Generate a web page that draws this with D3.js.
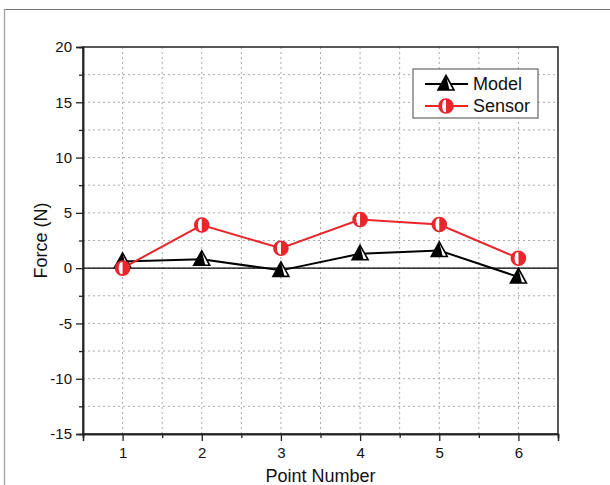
<!DOCTYPE html>
<html>
<head>
<meta charset="utf-8">
<script src="https://cdn.jsdelivr.net/npm/d3@7"></script>
<style>
  body { margin: 0; background: #fff; }
  svg { display: block; font-family: "Liberation Sans", Arial, sans-serif; }
</style>
</head>
<body>
<div id="chart"></div>
<script>
// data
const points = [1, 2, 3, 4, 5, 6];
const model = [0.6, 0.8, -0.2, 1.3, 1.6, -0.8];
const sensor = [0.0, 3.9, 1.8, 4.4, 3.95, 0.9];
const yTicks = [-15, -10, -5, 0, 5, 10, 15, 20];
const seriesNames = ["Model", "Sensor"];

const width = 610, height = 485;
const margin = { top: 47, right: 52, bottom: 51, left: 83 };

const svg = d3.select("#chart").append("svg")
  .attr("width", width)
  .attr("height", height);

// page frame lines
svg.append("line").attr("x1", 4).attr("x2", 610).attr("y1", 9.5).attr("y2", 9.5)
  .attr("stroke", "#777").attr("stroke-width", 1.2);
svg.append("line").attr("x1", 4.5).attr("x2", 4.5).attr("y1", 9).attr("y2", 485)
  .attr("stroke", "#aaa").attr("stroke-width", 1.5);

const x = d3.scaleLinear().domain([0.5, 6.5]).range([margin.left, width - margin.right]);
const y = d3.scaleLinear().domain([-15, 20]).range([height - margin.bottom, margin.top]);

// grid (dotted), every half step
const gx = d3.range(1, 13).map(i => 0.5 + i * 0.5).filter(v => v < 6.5);
const gy = d3.range(-12.5, 20, 2.5);
const grid = svg.append("g").attr("stroke", "#aaa").attr("stroke-dasharray", "2,3").attr("stroke-width", 1);
grid.selectAll(".gx").data(gx).join("line")
  .attr("x1", d => x(d)).attr("x2", d => x(d))
  .attr("y1", y(20)).attr("y2", y(-15));
grid.selectAll(".gy").data(gy).join("line")
  .attr("x1", x(0.5)).attr("x2", x(6.5))
  .attr("y1", d => y(d)).attr("y2", d => y(d));

// zero line
svg.append("line")
  .attr("x1", x(0.5)).attr("x2", x(6.5))
  .attr("y1", y(0)).attr("y2", y(0))
  .attr("stroke", "#000").attr("stroke-width", 1.2);

// frame of plot
svg.append("rect")
  .attr("x", x(0.5)).attr("y", y(20))
  .attr("width", x(6.5) - x(0.5)).attr("height", y(-15) - y(20))
  .attr("fill", "none").attr("stroke", "#222").attr("stroke-width", 1.5);

// axes: major + minor ticks
const hyphen = d => String(d);
svg.append("g").attr("transform", `translate(0,${y(-15)})`)
  .call(d3.axisBottom(x).tickValues(points).tickSize(7).tickPadding(6).tickFormat(hyphen));
svg.append("g").attr("transform", `translate(0,${y(-15)})`)
  .call(d3.axisBottom(x).tickValues(d3.range(0.5, 7, 1)).tickSize(4).tickFormat(""));
svg.append("g").attr("transform", `translate(${x(0.5)},0)`)
  .call(d3.axisLeft(y).tickValues(yTicks).tickSize(7).tickPadding(4).tickFormat(hyphen));
svg.append("g").attr("transform", `translate(${x(0.5)},0)`)
  .call(d3.axisLeft(y).tickValues(d3.range(-12.5, 20, 5)).tickSize(4).tickFormat(""));

svg.selectAll(".domain").attr("stroke", "#222").attr("stroke-width", 1.5);
svg.selectAll(".tick line").attr("stroke", "#222").attr("stroke-width", 1.3);
svg.selectAll(".tick text").attr("font-size", 15).attr("fill", "#111")
  .attr("font-family", "Liberation Sans, Arial, sans-serif");

// axis titles
svg.append("text")
  .attr("x", (x(0.5) + x(6.5)) / 2).attr("y", 482)
  .attr("text-anchor", "middle").attr("font-size", 18).attr("fill", "#111")
  .text("Point Number");
svg.append("text")
  .attr("transform", `translate(47,${(y(20) + y(-15)) / 2}) rotate(-90)`)
  .attr("text-anchor", "middle").attr("font-size", 18).attr("fill", "#111")
  .text("Force (N)");

// markers
const triPath = "M0,-8.5 L8,6 L-8,6 Z";
function drawTriangle(g, cx, cy) {
  const m = g.append("g").attr("transform", `translate(${cx},${cy})`);
  m.append("path").attr("d", triPath).attr("fill", "#fff").attr("stroke", "#000").attr("stroke-width", 1.6);
  m.append("path").attr("d", "M0,-8.5 L3.5,6 L-8,6 Z").attr("fill", "#000");
}
function drawCircle(g, cx, cy) {
  const m = g.append("g").attr("transform", `translate(${cx},${cy})`);
  const r = 7;
  m.append("circle").attr("r", r).attr("fill", "#fff").attr("stroke", "#e8262b").attr("stroke-width", 1.6);
  m.append("path").attr("d", `M0,${-r} A${r},${r} 0 0 1 0,${r} Z`).attr("fill", "#e8262b");
  m.append("path").attr("d", `M0,${-r} A${r},${r} 0 0 0 0,${r} A${r*0.55},${r} 0 0 1 0,${-r} Z`).attr("fill", "#e8262b");
}

const line = d3.line().x((d, i) => x(points[i])).y(d => y(d));
svg.append("path").datum(model).attr("d", line)
  .attr("fill", "none").attr("stroke", "#000").attr("stroke-width", 2);
svg.append("path").datum(sensor).attr("d", line)
  .attr("fill", "none").attr("stroke", "#e8262b").attr("stroke-width", 2);

const mg = svg.append("g");
model.forEach((v, i) => drawTriangle(mg, x(points[i]), y(v)));
const sg = svg.append("g");
sensor.forEach((v, i) => drawCircle(sg, x(points[i]), y(v)));

// legend
const lg = svg.append("g").attr("transform", "translate(413,69)");
lg.append("rect").attr("width", 125).attr("height", 49)
  .attr("fill", "#fff").attr("stroke", "#666").attr("stroke-width", 1.2);
seriesNames.forEach((name, i) => {
  const yy = 15 + i * 22;
  const col = i === 0 ? "#000" : "#e8262b";
  lg.append("line").attr("x1", 12).attr("x2", 55).attr("y1", yy).attr("y2", yy)
    .attr("stroke", col).attr("stroke-width", 2);
  if (i === 0) drawTriangle(lg, 33, yy); else drawCircle(lg, 33, yy);
  lg.append("text").attr("x", 60).attr("y", yy + 6)
    .attr("font-size", 18).attr("fill", "#111").text(name);
});
</script>
</body>
</html>
